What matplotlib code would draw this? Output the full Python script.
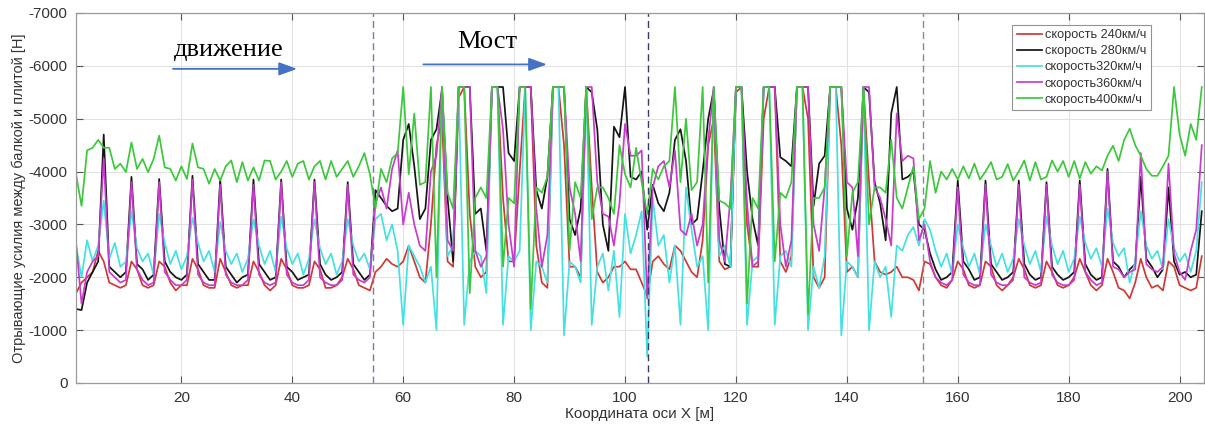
import numpy as np
import matplotlib
matplotlib.use("Agg")
import matplotlib.pyplot as plt
from matplotlib import font_manager
from matplotlib.patches import FancyArrowPatch

# ---- data: uplift force between girder and slab [N], sampled every 1 m ----
x_start = 1  # first coordinate, m

force_240 = [
    -1700, -1900, -2000, -2100, -2500, -2300, -1900, -1850, -1800, -1850,
    -2300, -2150, -1850, -1800, -1850, -2300, -2200, -1900, -1750, -1850,
    -1850, -2350, -2150, -1850, -1800, -1800, -2350, -2100, -1850, -1800,
    -1850, -1850, -2300, -2100, -1850, -1750, -1850, -2350, -2150, -1850,
    -1800, -1800, -1850, -2300, -2150, -1800, -1800, -1850, -2000, -2350,
    -2150, -1850, -1800, -1750, -2100, -2200, -2350, -2250, -2200, -2300,
    -2600, -2300, -2000, -1900, -3000, -4500, -5000, -2300, -2200, -5400,
    -5600, -3200, -2200, -2000, -2100, -5600, -5600, -3500, -2300, -2300,
    -4000, -5600, -5600, -2600, -1900, -1800, -5600, -5600, -4500, -2200,
    -2200, -2000, -5600, -3700, -2100, -1900, -2000, -2200, -2200, -2300,
    -2150, -2150, -1900, -1650, -2300, -2400, -2250, -2150, -2600, -2500,
    -2300, -2100, -2000, -2700, -4500, -5000, -2300, -2150, -2200, -5500,
    -5600, -3000, -2200, -2200, -5000, -5600, -5600, -2300, -2100, -2400,
    -5600, -5600, -5000, -2000, -1800, -2000, -5600, -5600, -4500, -2100,
    -2200, -2000, -5600, -3800, -2300, -2100, -2050, -2100, -2200, -2000,
    -2000, -1950, -1750, -2300, -2250, -2000, -1850, -1800, -1950, -2300,
    -2150, -1850, -1800, -1850, -2300, -2200, -1850, -1750, -1850, -2000,
    -2350, -2150, -1850, -1800, -1850, -2300, -2100, -1850, -1800, -1850,
    -2000, -2350, -2100, -1850, -1750, -1850, -2350, -2100, -1800, -1750,
    -1600, -1900, -2350, -2000, -1800, -1850, -1750, -2300, -2200, -1850,
    -1800, -1750, -1800, -2400,
]

force_280 = [
    -1400, -1380, -1900, -2100, -2300, -4700, -2200, -2100, -2000, -2100,
    -3900, -2250, -2150, -1950, -2050, -3860, -2300, -2100, -2000, -1950,
    -2050, -3920, -2250, -2100, -1950, -1950, -3850, -2200, -2050, -1900,
    -2000, -2050, -3850, -2250, -2100, -1950, -2000, -3850, -2200, -2100,
    -1950, -2000, -2050, -3850, -2250, -2050, -1950, -2000, -2100, -3800,
    -2250, -2100, -1950, -2050, -3650, -3500, -3350, -3250, -3300, -4600,
    -4900, -4100, -3100, -3300, -4600, -4800, -5550, -3500, -2300, -5600,
    -5600, -5600, -3200, -3300, -2500, -5600, -5600, -5600, -4350, -4200,
    -5600, -5600, -5600, -3650, -3300, -3900, -5600, -5600, -5600, -3100,
    -2800, -3300, -5600, -5500, -4800, -3000, -2500, -4850, -4650, -5600,
    -3900, -3850, -4000, -2900, -3750, -3400, -3250, -3600, -4600, -4800,
    -4200, -3000, -3100, -4000, -5000, -5550, -3300, -2250, -2200, -5600,
    -5600, -4000, -3100, -2600, -5600, -5600, -5600, -4270, -4200, -4100,
    -5600, -5600, -5600, -3350, -4150, -4300, -5600, -5600, -5600, -3300,
    -2900, -3500, -5600, -5500, -3800, -3400, -2700, -5100, -5600, -3850,
    -3900, -4000, -3000, -2900, -2450, -2150, -1950, -2000, -2100, -3830,
    -2300, -2150, -1950, -2000, -3830, -2250, -2100, -1950, -2000, -2100,
    -3830, -2250, -2050, -1950, -2000, -3800, -2200, -2050, -1950, -2000,
    -2100, -3830, -2250, -2050, -1950, -2000, -4050, -2300, -2200, -2000,
    -2150, -2250, -3900, -2350, -2200, -2000, -2150, -3700, -2300, -2050,
    -2100, -2000, -2050, -3250,
]

force_320 = [
    -2600, -2000, -2700, -2300, -2600, -3450, -2350, -2650, -2200, -2300,
    -3250, -2550, -2300, -2450, -2050, -3200, -2650, -2250, -2500, -2150,
    -2400, -3130, -2650, -2300, -2500, -2100, -3050, -2500, -2250, -2450,
    -2100, -2350, -3100, -2600, -2250, -2500, -2100, -3150, -2550, -2250,
    -2450, -2050, -2350, -3100, -2550, -2250, -2450, -2050, -2300, -3100,
    -2600, -2300, -2450, -2150, -3100, -3200, -2700, -3000, -2500, -1100,
    -2600, -2400, -2200, -1900, -2200, -1000, -5600, -2400, -2600, -5600,
    -1100, -2300, -2500, -2400, -1700, -5600, -5600, -1100, -2400, -2300,
    -2500, -5600, -1000, -2300, -2200, -1900, -5600, -5600, -900, -2300,
    -2200, -1900, -5600, -1100, -2200, -2450, -1750, -2500, -1250, -3200,
    -2450, -2800, -3250, -500, -3500, -2600, -2800, -1900, -2600, -1100,
    -3700, -2900, -2200, -2400, -1000, -5600, -2400, -2600, -2200, -5600,
    -5600, -1100, -2300, -2400, -5600, -5600, -1100, -2400, -2500, -2200,
    -5600, -5600, -1000, -2200, -1800, -2400, -5600, -5600, -900, -2300,
    -2200, -2000, -5600, -1000, -2300, -2000, -2200, -1250, -2600, -2500,
    -2800, -2950, -2600, -3100, -2900, -2500, -2200, -2450, -2050, -3000,
    -2550, -2200, -2450, -2050, -3000, -2600, -2200, -2450, -2100, -2350,
    -3100, -2600, -2250, -2500, -2100, -3150, -2600, -2250, -2500, -2100,
    -2350, -3150, -2650, -2350, -2550, -2200, -3300, -2650, -2400, -2550,
    -1900, -2300, -3250, -2600, -2350, -2500, -2150, -3100, -2550, -2300,
    -2450, -2100, -2500, -3800,
]

force_360 = [
    -2650, -1500, -2100, -2300, -2400, -4250, -2100, -2000, -1900, -1950,
    -3800, -2150, -1950, -1850, -1900, -3800, -2100, -1950, -1850, -1850,
    -1950, -3850, -2050, -1900, -1850, -1850, -3750, -2050, -1900, -1850,
    -1850, -1950, -3750, -2050, -1900, -1850, -1900, -3800, -2050, -1900,
    -1850, -1850, -1950, -3800, -2000, -1900, -1850, -1850, -1950, -3750,
    -2050, -1950, -1900, -2000, -3400, -3700, -3300, -4050, -4400, -3000,
    -3600, -3000, -2600, -2500, -4000, -4300, -5600, -2700, -2500, -5600,
    -5600, -5600, -2500, -2200, -2400, -5600, -5600, -4800, -3000, -2200,
    -5600, -5600, -5600, -3300, -2200, -2800, -5600, -5600, -5600, -3700,
    -3200, -2300, -5600, -5600, -3800, -3200, -3150, -2600, -3400, -4900,
    -4300, -4300, -4400, -1600, -3700, -4100, -4200, -3700, -4400, -2900,
    -2800, -3200, -2600, -3000, -4600, -5600, -2700, -2300, -3500, -5600,
    -5600, -3400, -2200, -2300, -5600, -5600, -5600, -3000, -2200, -2700,
    -5600, -5600, -5600, -3000, -2500, -3700, -5600, -5600, -5600, -3800,
    -3700, -2400, -5600, -5600, -3700, -3500, -3100, -2600, -5100, -4200,
    -4300, -4250, -2700, -3000, -2300, -2000, -1900, -1850, -1950, -3700,
    -2050, -1900, -1850, -1850, -3750, -2050, -1900, -1850, -1850, -1950,
    -3750, -2000, -1900, -1850, -1900, -3750, -2050, -1900, -1850, -1850,
    -1950, -3750, -2100, -1950, -1850, -1900, -4000, -2200, -2150, -2000,
    -2100, -2150, -4350, -2250, -2150, -2100, -2200, -4150, -2450, -2100,
    -1950, -2500, -2900, -4500,
]

force_400 = [
    -3950, -3350, -4400, -4450, -4600, -4450, -4450, -4050, -4150, -3990,
    -4550, -4050, -4240, -3990, -4240, -4680, -4080, -4050, -3830, -4100,
    -3860, -4530, -4080, -4050, -3770, -4050, -3830, -4100, -4210, -3800,
    -4180, -3830, -4080, -3830, -4210, -4200, -3850, -4000, -4200, -3900,
    -4150, -4200, -3850, -4100, -4200, -3850, -4200, -3900, -4050, -4200,
    -3900, -4100, -4350, -3950, -3300, -4050, -3800, -4250, -4350, -5600,
    -3950, -5100, -3750, -3800, -5600, -2000, -5600, -3600, -3300, -5600,
    -5600, -1700, -3500, -3700, -3500, -5600, -5600, -2200, -3500, -3400,
    -5600, -5600, -1400, -3700, -3600, -3900, -5600, -5600, -5600, -2500,
    -3800, -3500, -5600, -3100, -3700, -3700, -3500, -3200, -4500, -3950,
    -3700, -4450, -3800, -3200, -4050, -3850, -4100, -4200, -5600, -3800,
    -5000, -3650, -3800, -5600, -1900, -5600, -3450, -3400, -3300, -5600,
    -5600, -1500, -3500, -3300, -5600, -5600, -2300, -3600, -3500, -3800,
    -5600, -5600, -1300, -3500, -3500, -3700, -5600, -5600, -5600, -2400,
    -3600, -3800, -5600, -3000, -3700, -3700, -3600, -4600, -3500, -3300,
    -3700, -4100, -3100, -3300, -4200, -3600, -4000, -3850, -4050, -3850,
    -4100, -3870, -4150, -3850, -4000, -4180, -3850, -3900, -4140, -3830,
    -4000, -4210, -3830, -4180, -3850, -3900, -4210, -4000, -4200, -3900,
    -4200, -3870, -4180, -3960, -4100, -4020, -4300, -4490, -4200, -4600,
    -4810, -4500, -4300, -4050, -3920, -3920, -4100, -4300, -5600, -4700,
    -4300, -4900, -4600, -5600,
]

series_labels = ["скорость 240км/ч", "скорость 280км/ч", "скорость320км/ч",
                 "скорость360км/ч", "скорость400км/ч"]
support_x = [54.6, 104.1, 153.7]   # bridge supports, m

x_ticks = [20, 40, 60, 80, 100, 120, 140, 160, 180, 200]
y_ticks = [-7000, -6000, -5000, -4000, -3000, -2000, -1000, 0]

# ---- fonts ----
installed = {f.name for f in font_manager.fontManager.ttflist}
sans = "Liberation Sans Narrow" if "Liberation Sans Narrow" in installed else "Liberation Sans"
plt.rcParams["font.family"] = [sans, "DejaVu Sans"]
plt.rcParams["axes.unicode_minus"] = False

fig = plt.figure(figsize=(12.05, 4.30), dpi=100)
ax = fig.add_axes([76 / 1205, 47 / 430, 1128 / 1205, 370 / 430])

colors = ["#cc3a36", "#151515", "#45e0e0", "#c83ccc", "#3cc83c"]
all_series = [force_240, force_280, force_320, force_360, force_400]
for vals, col, lab in zip(all_series, colors, series_labels):
    xs = np.arange(x_start, x_start + len(vals))
    ax.plot(xs, vals, color=col, lw=1.25, label=lab)

support_colors = ["#7a7aa8", "#3a3a6a", "#8a8a8a"]
for sx, sc in zip(support_x, support_colors):
    ax.axvline(sx, color=sc, lw=1.0, ls=(0, (5, 3)))

ax.set_xlim(1, 204.4)
ax.set_ylim(0, -7000)
ax.set_xticks(x_ticks)
ax.set_yticks(y_ticks)
ax.grid(True, color="#e2e2e2", lw=0.8)
ax.set_axisbelow(True)
for sp in ax.spines.values():
    sp.set_color("#9a9a9a")
    sp.set_linewidth(0.9)
ax.tick_params(direction="in", top=True, right=True, length=5, width=0.8,
               colors="#555555", labelcolor="#333333", labelsize=11, pad=6)

ax.set_xlabel("Координата оси X [м]", fontsize=11, color="#333333", labelpad=1)
ax.set_ylabel("Отрывающие усилия между балкой и плитой [Н]", fontsize=10.5,
              color="#333333", labelpad=2)

leg = ax.legend(loc="upper left", bbox_to_anchor=(0.830, 0.968), fontsize=9.2,
                frameon=True, fancybox=False, borderpad=0.35, labelspacing=0.32,
                handlelength=2.0, handletextpad=0.2, borderaxespad=0)
leg.get_frame().set_edgecolor("#777777")
leg.get_frame().set_linewidth(0.8)
for t in leg.get_texts():
    t.set_color("#333333")

# direction-of-travel annotations
serif = ["Liberation Serif", "DejaVu Serif"]
arrow_col = "#4472c4"
ax.text(0.135, 0.900, "движение", transform=ax.transAxes, ha="center", va="center",
        fontsize=19, family=serif, color="black")
ax.text(0.365, 0.922, "Мост", transform=ax.transAxes, ha="center", va="center",
        fontsize=19, family=serif, color="black")
for x0, x1, y in [(0.086, 0.196, 0.849), (0.308, 0.4175, 0.861)]:
    ax.add_patch(FancyArrowPatch((x0, y), (x1, y), transform=ax.transAxes,
                                 arrowstyle="-|>,head_length=1.1,head_width=0.4",
                                 mutation_scale=10, color=arrow_col, lw=1.3,
                                 shrinkA=0, shrinkB=0))

fig.savefig("out.png", dpi=100)
